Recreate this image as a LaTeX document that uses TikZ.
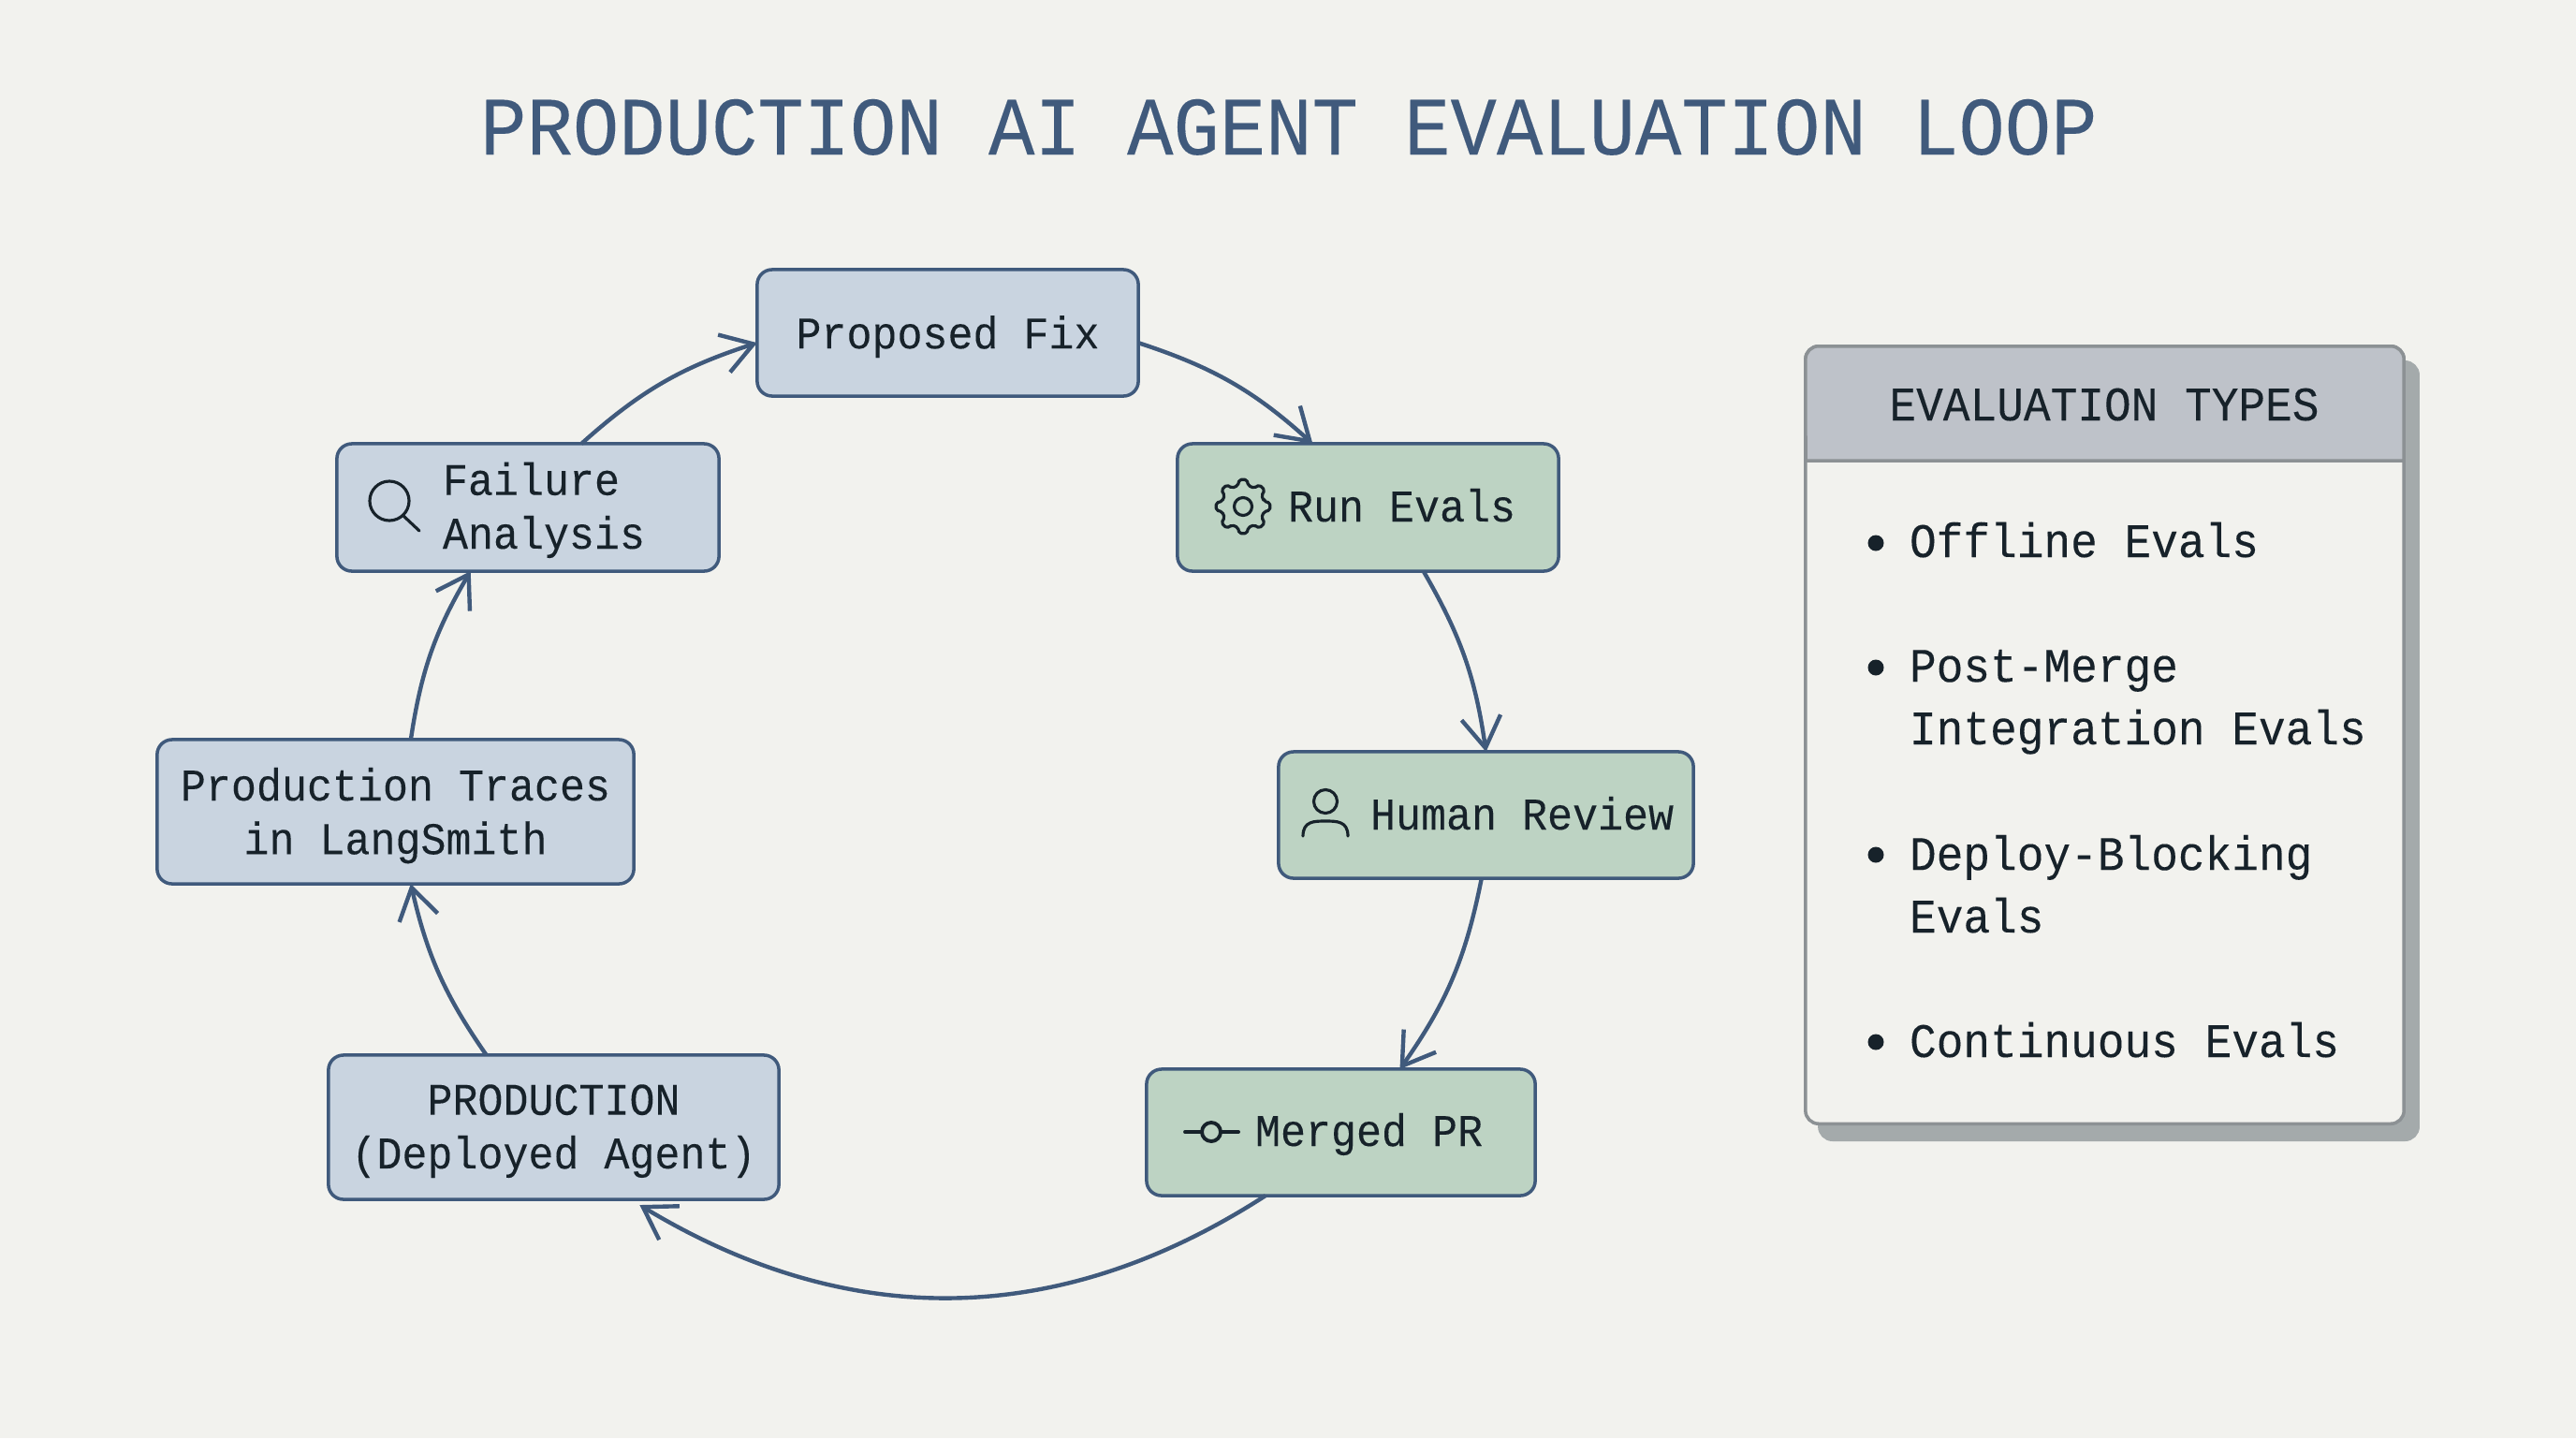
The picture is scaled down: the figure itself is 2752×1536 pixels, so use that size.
\documentclass[tikz,border=0pt]{standalone}
\usepackage{fontspec}
\setmonofont[FakeStretch=0.93,FakeBold=0.12]{Liberation Mono}
\usetikzlibrary{arrows.meta,positioning,calc}

\definecolor{paper}{HTML}{F2F2EE}
\definecolor{edgeblue}{HTML}{405A7C}
\definecolor{fillblue}{HTML}{C9D4E0}
\definecolor{fillgreen}{HTML}{BDD3C3}
\definecolor{inkdark}{HTML}{17222A}
\definecolor{headgrey}{HTML}{BEC2C9}
\definecolor{panelline}{HTML}{8C9194}
\definecolor{panelshade}{HTML}{A4AAAB}

\tikzset{
  stepbox/.style={rectangle,draw=edgeblue,line width=1pt,rounded corners=0.16cm,inner sep=0pt,outer sep=0pt,
    text=inkdark,align=center,text depth=0.5pt,font=\ttfamily\fontsize{13.76}{16.3}\selectfont},
  bluebox/.style={stepbox,fill=fillblue},
  greenbox/.style={stepbox,fill=fillgreen},
  boxtext/.style={inner sep=0pt,outer sep=0pt,anchor=base west,align=left,text=inkdark,
    font=\ttfamily\fontsize{13.76}{16.3}\selectfont},
  itemtext/.style={inner sep=0pt,outer sep=0pt,anchor=base west,align=left,text=inkdark,
    font=\ttfamily\fontsize{14.62}{19}\selectfont},
  panelbox/.style={rectangle,line width=1pt,rounded corners=0.14cm,outer sep=0pt,minimum width=6.39cm,minimum height=8.30cm},
  flow/.style={draw=edgeblue,line width=1.25pt,-{Straight Barb[length=0.33cm,width=0.42cm,line width=1.25pt]}},
  icon/.style={draw=inkdark,line width=0.9pt,line cap=round,line join=round},
  gearicon/.pic={
    \draw[icon,rounded corners=0.02cm] (-14:23) \foreach \a in {0,45,...,315} { -- (\a-14:23) -- (\a-8:29) -- (\a+8:29) -- (\a+14:23) } -- cycle;
    \draw[icon] (0,0) circle (0.095cm);
  },
  lensicon/.pic={
    \draw[icon] (0,0) circle (0.21cm);
    \draw[icon] (15,16) -- (32,32);
  },
  personicon/.pic={
    \draw[icon] (0,-15) circle (0.125cm);
    \draw[icon] (-24,22) .. controls (-24,6) and (-12,6) .. (0,6) .. controls (12,6) and (24,6) .. (24,22);
  },
  commiticon/.pic={
    \draw[icon,line width=1.1pt] (0,0) circle (0.1cm);
    \draw[icon,line width=1.1pt] (-28,0) -- (-10,0);
    \draw[icon,line width=1.1pt] (10,0) -- (29,0);
  }
}

\begin{document}
\begin{tikzpicture}[x=0.01cm,y=-0.01cm,>=Straight Barb]
% page
\fill[paper] (0,0) rectangle (2752,1536);
\useasboundingbox (0,0) rectangle (2752,1536);

% title
\node[text=edgeblue,font=\ttfamily\fontsize{25.15}{30}\selectfont,anchor=base,name=title] at (1377,165) {PRODUCTION AI AGENT EVALUATION LOOP};

% loop steps
\node[bluebox,minimum width=4.07cm,minimum height=1.35cm,name=fix] at (1012.5,355.5) {Proposed Fix};
\node[greenbox,minimum width=4.07cm,minimum height=1.36cm,name=run] at (1461.5,542) {};
\node[greenbox,minimum width=4.43cm,minimum height=1.35cm,name=human] at (1587.5,870.5) {};
\node[greenbox,minimum width=4.15cm,minimum height=1.35cm,name=merged] at (1432.5,1209.5) {};
\node[bluebox,minimum width=4.81cm,minimum height=1.54cm,name=prod] at (591.5,1204) {PRODUCTION\\(Deployed Agent)};
\node[bluebox,minimum width=5.09cm,minimum height=1.54cm,name=traces] at (422.5,867) {Production Traces\\in LangSmith};
\node[bluebox,minimum width=4.08cm,minimum height=1.36cm,name=fail] at (564,542) {};

% texts beside the icons
\node[boxtext,name=runtext] at (1376,557) {Run Evals};
\node[boxtext,name=humantext] at (1464,886) {Human Review};
\node[boxtext,name=mergedtext] at (1341,1224) {Merged PR};
\node[boxtext,name=failtext] at (473,586) {Failure\\Analysis};

% icons
\pic at (1328,541) {gearicon};
\pic at (1416,871) {personicon};
\pic at (1294,1209) {commiticon};
\pic at (416,535) {lensicon};

% arrows round the loop
\draw[flow] (fix.-3) to[bend left=12] (run.131);
\draw[flow] (run.-49) to[bend left=11] (human.90);
\draw[flow] (human.-94) to[bend left=12] (merged.47);
\draw[flow] (merged.-140) to[bend left=32] ([yshift=-0.06cm]prod.-40);
\draw[flow] (prod.133) to[bend left=11] (traces.-78);
\draw[flow] (traces.78) to[bend left=11] (fail.-132);
\draw[flow] (fail.50) to[bend left=12] (fix.183);

% panel with shadow
\node[panelbox,fill=panelshade,draw=panelshade,name=shadow] at (2263.5,802) {};
\node[panelbox,fill=paper,draw=panelline,name=panel] at (2248.5,785) {};
\coordinate (headleft) at (1929,492);
\coordinate (headright) at (2568,492);
\filldraw[fill=headgrey,draw=panelline,line width=1pt] (headleft) {[rounded corners=0.14cm] -- (panel.north west) -- (panel.north east)} -- (headright) -- cycle;
\node[itemtext,anchor=base,name=paneltitle] at (2248,449) {EVALUATION TYPES};

% panel items
\foreach \i/\ybase/\ydot/\itemtxt in {1/595/580/{Offline Evals},2/795/713/{Post-Merge\\Integration Evals},3/996/913/{Deploy-Blocking\\Evals},4/1129/1113/{Continuous Evals}}{
  \node[circle,fill=inkdark,inner sep=0pt,minimum size=0.17cm,name=dot\i] at (2004,\ydot) {};
  \node[itemtext,name=item\i] at (2040,\ybase) {\itemtxt};
}
\end{tikzpicture}
\end{document}
